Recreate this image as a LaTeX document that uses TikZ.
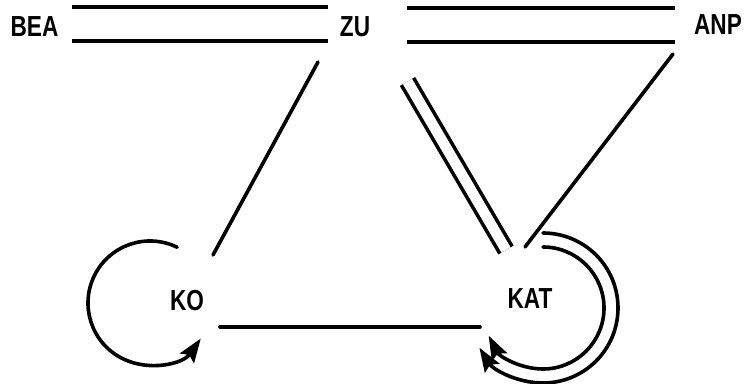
\documentclass[tikz,border=0pt]{standalone}
\usepackage{fontspec}
\usepackage{tikz}
\usetikzlibrary{arrows.meta}
\newfontfamily\labelfont{Liberation Sans}[FakeStretch=0.78]
\definecolor{ink}{HTML}{000000}

\begin{document}
\begin{tikzpicture}[x=1pt,y=1pt,
    lbl/.style={inner sep=0pt, font=\labelfont\bfseries\fontsize{29}{29}\selectfont},
    link/.style={ink, line width=3.6pt, line cap=round},
    rail/.style={ink, line width=3.6pt, double, double distance=30.4pt},
    pair/.style={ink, line width=3.6pt, double, double distance=10.5pt},
    selfloop/.style={ink, line width=3.6pt, line cap=round, -{Stealth[length=24pt,width=17pt,inset=4pt]}}]
  \useasboundingbox (0,0) rectangle (746,383);
  % Knoten
  \node[lbl] (bea) at (34.5,356) {BEA};
  \node[lbl] (zu)  at (355,356)  {ZU};
  \node[lbl] (anp) at (718,358)  {ANP};
  \node[lbl] (ko)  at (187,82)   {KO};
  \node[lbl] (kat) at (530,84)   {KAT};
  % obere Doppelstriche
  \draw[rail] ([shift={(37.5,3)}]bea.center) -- ([shift={(-27,3)}]zu.center);
  \draw[rail] ([shift={(52,2)}]zu.center) -- ([shift={(-43,0)}]anp.center);
  % Verbindungen nach unten
  \draw[link] ([shift={(-37,-35)}]zu.center) -- ([shift={(26,46)}]ko.center);
  \draw[pair] ([shift={(52.5,-54.5)}]zu.center) -- ([shift={(-24,49)}]kat.center);
  \draw[link] ([shift={(-45,-29)}]anp.center) -- ([shift={(-5,52)}]kat.center);
  \draw[link] ([shift={(33,-26)}]ko.center) -- ([shift={(-50,-28)}]kat.center);
  % Schleifen
  \draw[selfloop] ([shift={(-37,-2)}]ko.center) ++(64:62) arc[start angle=64, end angle=325, radius=62];
  \draw[selfloop] ([shift={(13,-9)}]kat.center) ++(90:75) arc[start angle=90, end angle=-148, radius=75];
  \draw[selfloop] ([shift={(13,-9)}]kat.center) ++(90:61) arc[start angle=90, end angle=-153, radius=61];
\end{tikzpicture}
\end{document}
